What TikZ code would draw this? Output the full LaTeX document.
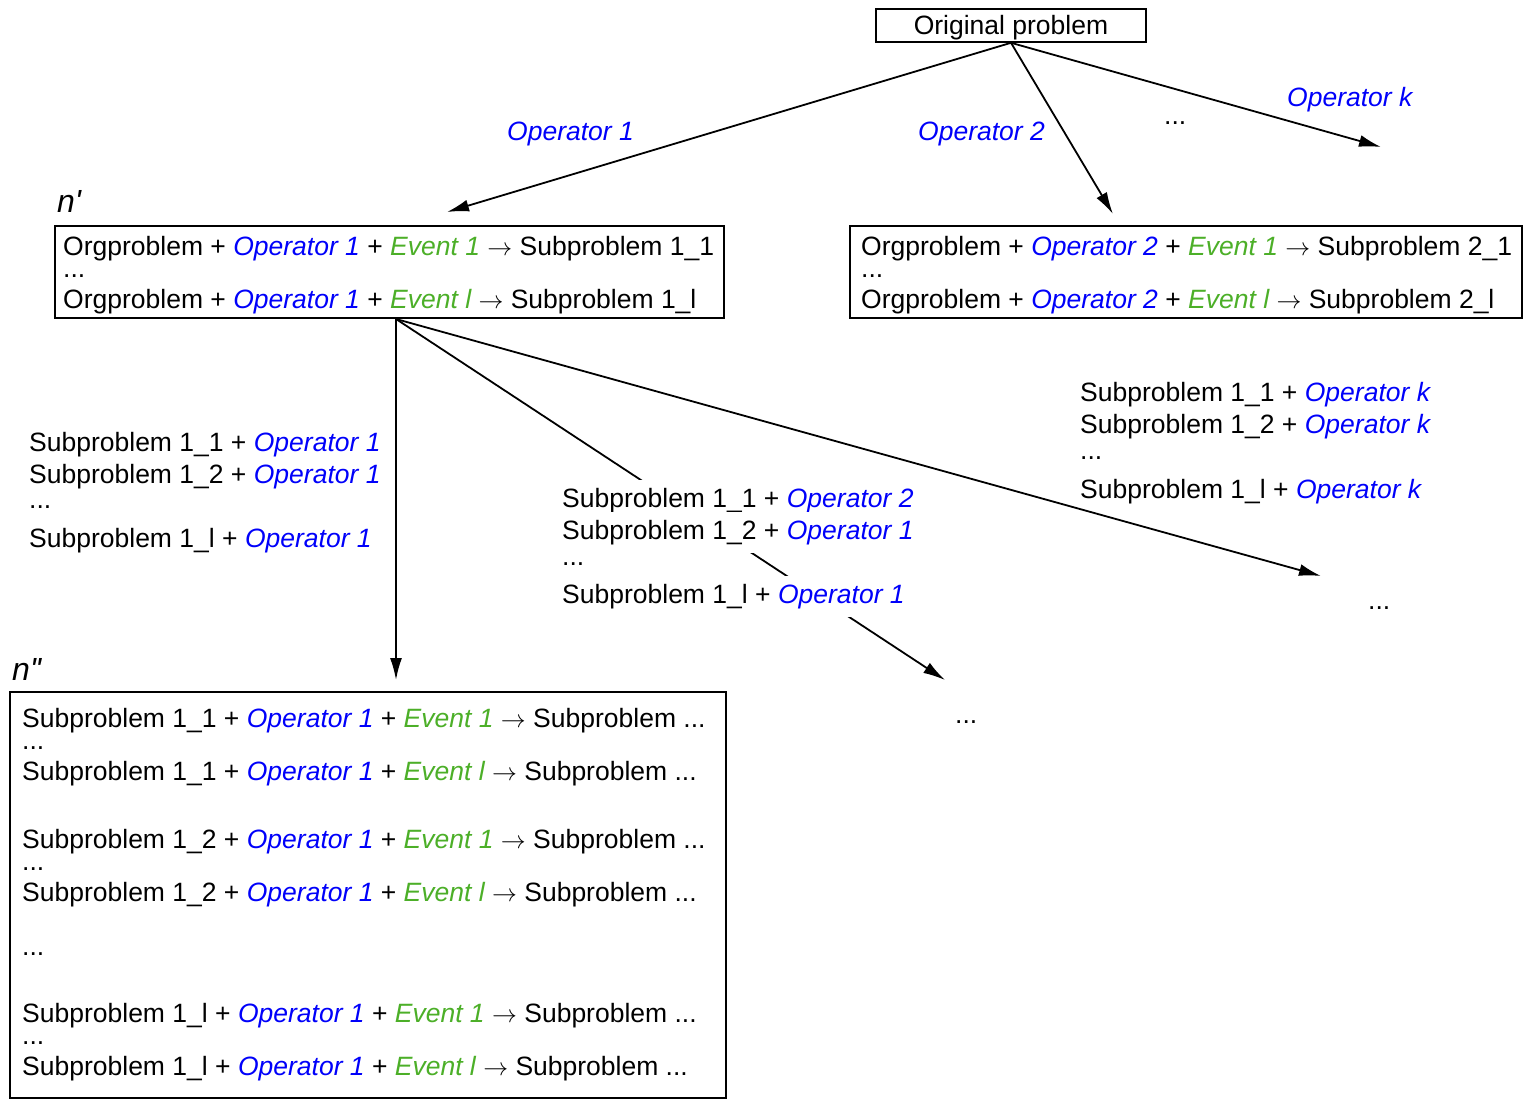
\documentclass[tikz,border=0pt]{standalone}
\usepackage{fontspec}
\setmainfont{Liberation Sans}
\usetikzlibrary{arrows.meta}
\definecolor{opblue}{RGB}{0,0,250}
\definecolor{evgreen}{RGB}{76,175,40}
\newcommand\OPr[1]{{\color{opblue}\itshape #1}}
\newcommand\EVt[1]{{\color{evgreen}\itshape #1}}
\newcommand\ARw{$\rightarrow$}
\begin{document}
\begin{tikzpicture}[x=1pt,y=-1pt,
  tx/.style={font=\fontsize{26.5}{32}\selectfont, anchor=base west, inner sep=0pt},
  wtx/.style={tx, fill=white, inner xsep=2pt, inner ysep=8pt},
  boxn/.style={draw, line width=1.6pt, inner sep=0pt},
  lbl/.style={font=\fontsize{32}{36}\selectfont\itshape, anchor=base west, inner sep=0pt},
  arr/.style={line width=1.8pt, -{Latex[length=22pt,width=12pt]}}]
\useasboundingbox (0,0) rectangle (1531,1103);

% boxes
\node[boxn, minimum width=270pt, minimum height=33pt, text height=19pt, text depth=1pt, font=\fontsize{26.5}{32}\selectfont] (orig) at (1011,25.5) {Original problem};
\node[boxn, minimum width=669pt, minimum height=92pt] (np) at (389.5,272) {};
\node[boxn, minimum width=672pt, minimum height=92pt] (np2) at (1186,272) {};
\node[boxn, minimum width=716pt, minimum height=406pt] (npp) at (368,895) {};

% labels n' n''
\node[lbl] (lnp) at (57,212) {n\textquotesingle};
\node[lbl] (lnpp) at (12,680) {n\textquotesingle\kern-1pt\textquotesingle};

% top arrow labels
\node[tx] (op1) at (507,140) {\OPr{Operator 1}};
\node[tx] (op2) at (918,140) {\OPr{Operator 2}};
\node[tx] (opk) at (1287,106) {\OPr{Operator k}};
\node[tx] (dtop) at (1164,124) {...};

% n' box text
\node[tx] (np1) at (63,255) {Orgproblem + \OPr{Operator 1} + \EVt{Event 1} \ARw{} Subproblem 1\_1};
\node[tx] (npd) at (63,277) {...};
\node[tx] (np3) at (63,308) {Orgproblem + \OPr{Operator 1} + \EVt{Event l} \ARw{} Subproblem 1\_l};

% right box text
\node[tx] (nq1) at (861,255) {Orgproblem + \OPr{Operator 2} + \EVt{Event 1} \ARw{} Subproblem 2\_1};
\node[tx] (nqd) at (861,277) {...};
\node[tx] (nq3) at (861,308) {Orgproblem + \OPr{Operator 2} + \EVt{Event l} \ARw{} Subproblem 2\_l};

% arrows from original
\coordinate (e1) at (447,212);
\coordinate (e2) at (1113,214);
\coordinate (e3) at (1381,147);
\draw[arr] (orig.south) -- (e1);
\draw[arr] (orig.south) -- (e2);
\draw[arr] (orig.south) -- (e3);

% arrows from n'
\coordinate (npo) at (396,319);
\coordinate (f1) at (396,680);
\coordinate (f2) at (945,680);
\coordinate (f3) at (1321,576);
\draw[arr] (npo) -- (f1);
\draw[arr] (npo) -- (f2);
\draw[arr] (npo) -- (f3);

% left block
\node[tx] (la1) at (29,451) {Subproblem 1\_1 + \OPr{Operator 1}};
\node[tx] (la2) at (29,483) {Subproblem 1\_2 + \OPr{Operator 1}};
\node[tx] (lad) at (29,508) {...};
\node[tx] (la4) at (29,547) {Subproblem 1\_l + \OPr{Operator 1}};

% middle block (covers the connector)
\node[wtx] (mb1) at (560,507) {Subproblem 1\_1 + \OPr{Operator 2}};
\node[wtx] (mb2) at (560,539) {Subproblem 1\_2 + \OPr{Operator 1}};
\node[tx] (mbd) at (562,565) {...};
\node[wtx] (mb4) at (560,603) {Subproblem 1\_l + \OPr{Operator 1}};

% right block
\node[tx] (rb1) at (1080,401) {Subproblem 1\_1 + \OPr{Operator k}};
\node[tx] (rb2) at (1080,433) {Subproblem 1\_2 + \OPr{Operator k}};
\node[tx] (rbd) at (1080,459) {...};
\node[tx] (rb4) at (1080,498) {Subproblem 1\_l + \OPr{Operator k}};

% loose dots
\node[tx] (d1) at (1368,609) {...};
\node[tx] (d2) at (955,723) {...};

% n'' box text
\node[tx] (q1) at (22,727) {Subproblem 1\_1 + \OPr{Operator 1} + \EVt{Event 1} \ARw{} Subproblem ...};
\node[tx] (q1d) at (22,749) {...};
\node[tx] (q2) at (22,780) {Subproblem 1\_1 + \OPr{Operator 1} + \EVt{Event l} \ARw{} Subproblem ...};
\node[tx] (q3) at (22,848) {Subproblem 1\_2 + \OPr{Operator 1} + \EVt{Event 1} \ARw{} Subproblem ...};
\node[tx] (q3d) at (22,870) {...};
\node[tx] (q4) at (22,901) {Subproblem 1\_2 + \OPr{Operator 1} + \EVt{Event l} \ARw{} Subproblem ...};
\node[tx] (qd) at (22,955) {...};
\node[tx] (q5) at (22,1022) {Subproblem 1\_l + \OPr{Operator 1} + \EVt{Event 1} \ARw{} Subproblem ...};
\node[tx] (q5d) at (22,1044) {...};
\node[tx] (q6) at (22,1075) {Subproblem 1\_l + \OPr{Operator 1} + \EVt{Event l} \ARw{} Subproblem ...};
\end{tikzpicture}
\end{document}
